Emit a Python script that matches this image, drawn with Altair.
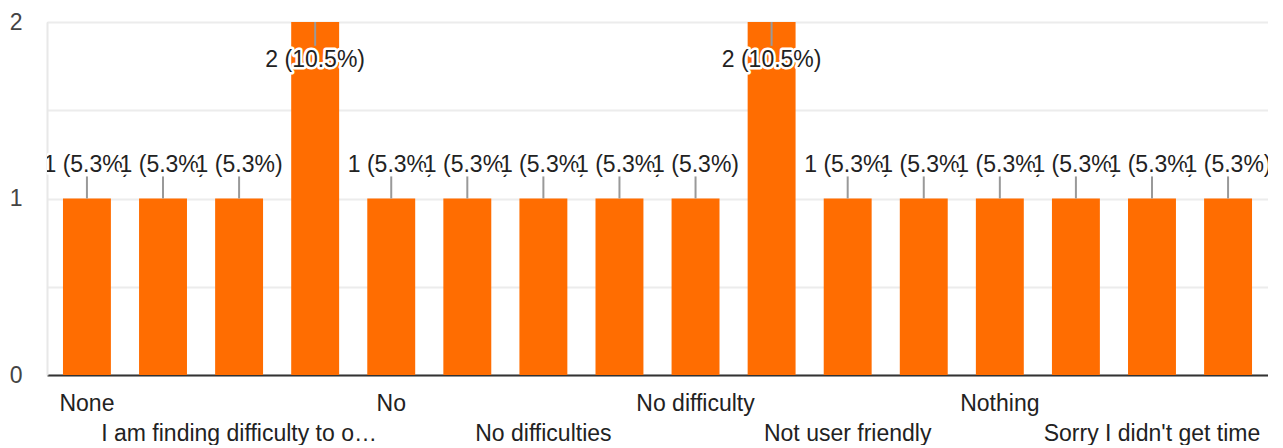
import json
import altair as alt
import pandas as pd

# Category labels (only every other one is visible in the reference)
names = ["None", "", "I am finding difficulty to o\u2026", "", "No", "", "No difficulties", "",
         "No difficulty", "", "Not user friendly", "", "Nothing", "", "Sorry I didn't get time", ""]
counts = [1, 1, 1, 2, 1, 1, 1, 1, 1, 2, 1, 1, 1, 1, 1, 1]
percents = ["5.3", "5.3", "5.3", "10.5", "5.3", "5.3", "5.3", "5.3", "5.3", "10.5",
            "5.3", "5.3", "5.3", "5.3", "5.3", "5.3"]

df = pd.DataFrame({
    "idx": list(range(len(counts))),
    "count": counts,
    "label": [f"{c} ({p}%)" for c, p in zip(counts, percents)],
})

FONT = "Liberation Sans"
ORANGE = "#ff6d01"

names_js = json.dumps(names)
x_label_expr = (f"(datum.value % 4 == 2) ? ['', {names_js}[datum.value]] : "
                f"[{names_js}[datum.value], '']")

x_enc = alt.X(
    "idx:O",
    scale=alt.Scale(paddingInner=0.37, paddingOuter=0.21),
    axis=alt.Axis(
        title=None, labelAngle=0, ticks=False, labelExpr=x_label_expr,
        labelFont=FONT, labelFontSize=23, labelColor="#222222",
        labelBaseline="top", labelPadding=17, labelLineHeight=30,
        labelOverlap=False, labelBound=False, labelFlush=False, labelLimit=0,
        domainColor="#333333", domainWidth=2,
    ),
)
y_scale = alt.Scale(domain=[0, 2], nice=False)

base = alt.Chart(df)

bars = base.mark_bar(color=ORANGE).encode(
    x=x_enc,
    y=alt.Y(
        "count:Q", scale=y_scale,
        axis=alt.Axis(
            title=None, values=[0, 0.5, 1, 1.5, 2],
            labelExpr="datum.value % 1 == 0 ? format(datum.value, 'd') : ''",
            tickSize=0, labelPadding=25, labelFont=FONT, labelFontSize=23,
            labelColor="#444444", gridColor="#ececec", gridWidth=2,
            domainColor="#e8e8e8", domainWidth=2,
        ),
    ),
)

leaders = base.transform_calculate(
    end="datum.count == 2 ? datum.count - 0.135 : datum.count + 0.125"
).mark_rule(color="#999999", strokeWidth=2).encode(
    x=alt.X("idx:O"),
    y=alt.Y("count:Q", scale=y_scale),
    y2="end:Q",
)

layers = [bars, leaders]
for i, c in enumerate(counts):
    dy = 38 if c >= 2 else -34
    sub = base.transform_filter(f"datum.idx == {i}")
    enc = dict(x=alt.X("idx:O"), y=alt.Y("count:Q", scale=y_scale), text="label:N")
    halo = sub.mark_text(
        font=FONT, fontSize=23, color="white", stroke="white", strokeWidth=5,
        strokeJoin="round", baseline="middle", dy=dy, clip=True
    ).encode(**enc)
    txt = sub.mark_text(
        font=FONT, fontSize=23, color="#222222", baseline="middle", dy=dy, clip=True
    ).encode(**enc)
    layers += [halo, txt]

chart = alt.layer(*layers).properties(
    width=1221, height=353,
    autosize=alt.AutoSizeParams(type="none"),
    padding={"left": 39, "top": 14, "right": 0, "bottom": 70},
).configure_view(stroke=None).configure(background="white")

chart.save("out.html", embed_options={"renderer": "svg", "actions": False})
